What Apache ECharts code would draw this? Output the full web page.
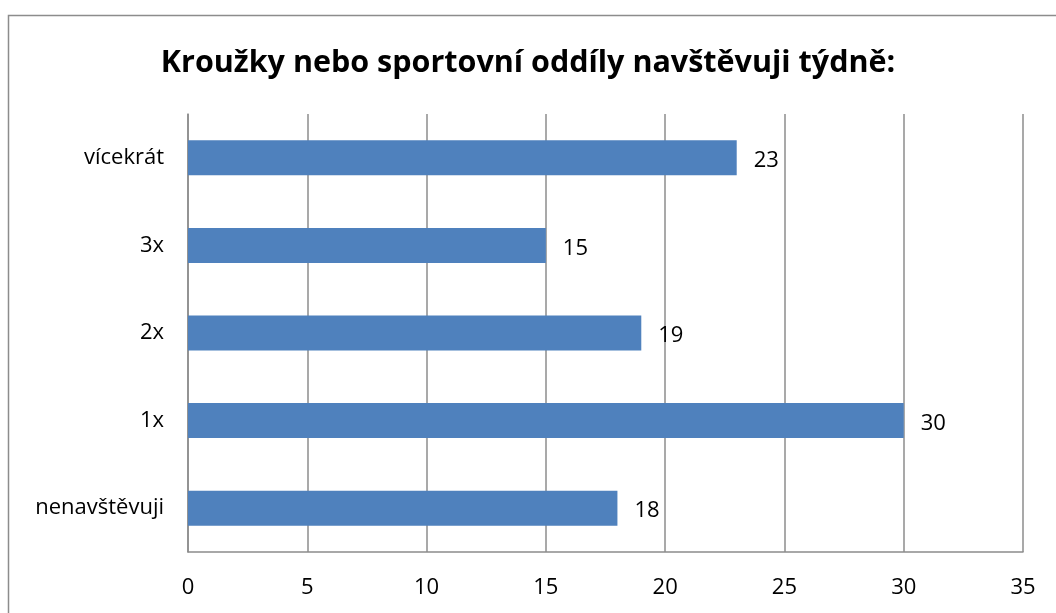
<!DOCTYPE html>
<html>
<head>
<meta charset="utf-8">
<script src="https://cdn.jsdelivr.net/npm/echarts@6/dist/echarts.min.js"></script>
<style>
  html, body { margin: 0; padding: 0; background: #fff; }
  #chart { width: 1056px; height: 613px; }
</style>
</head>
<body>
<div id="chart"></div>
<script>
var categories = ['nenavštěvuji', '1x', '2x', '3x', 'vícekrát'];
var values = [18, 30, 19, 15, 23];

var chart = echarts.init(document.getElementById('chart'));

var option = {
  backgroundColor: '#fff',
  animation: false,
  title: {
    text: 'Kroužky nebo sportovní oddíly navštěvuji týdně:',
    left: 'center',
    top: 43,
    textStyle: {
      fontFamily: 'Open Sans',
      fontWeight: 'bold',
      fontSize: 30.5,
      color: '#000'
    }
  },
  graphic: [
    {
      type: 'rect',
      shape: { x: 8.5, y: 15.5, width: 1100, height: 700 },
      style: { fill: 'none', stroke: '#8c8c8c', lineWidth: 1.5 },
      silent: true
    }
  ],
  grid: {
    left: 188,
    right: 33,
    top: 114,
    bottom: 61
  },
  xAxis: {
    type: 'value',
    min: 0,
    max: 35,
    interval: 5,
    axisLine: { show: true, lineStyle: { color: '#8c8c8c', width: 1.5 } },
    axisTick: { show: false },
    axisLabel: {
      margin: 25,
      fontFamily: 'Open Sans',
      fontSize: 22,
      color: '#000'
    },
    splitLine: { show: true, lineStyle: { color: '#8c8c8c', width: 1.5 } }
  },
  yAxis: {
    type: 'category',
    data: categories,
    axisLine: { show: true, lineStyle: { color: '#8c8c8c', width: 1.5 } },
    axisTick: { show: false },
    axisLabel: {
      margin: 24,
      fontFamily: 'Open Sans',
      fontSize: 22,
      color: '#000'
    }
  },
  series: [
    {
      type: 'bar',
      data: values,
      barWidth: '40%',
      itemStyle: { color: '#4f81bd' },
      label: {
        show: true,
        position: 'right',
        distance: 17,
        offset: [0, 3],
        fontFamily: 'Open Sans',
        fontSize: 22,
        color: '#000'
      }
    }
  ]
};

chart.setOption(option);
</script>
</body>
</html>
